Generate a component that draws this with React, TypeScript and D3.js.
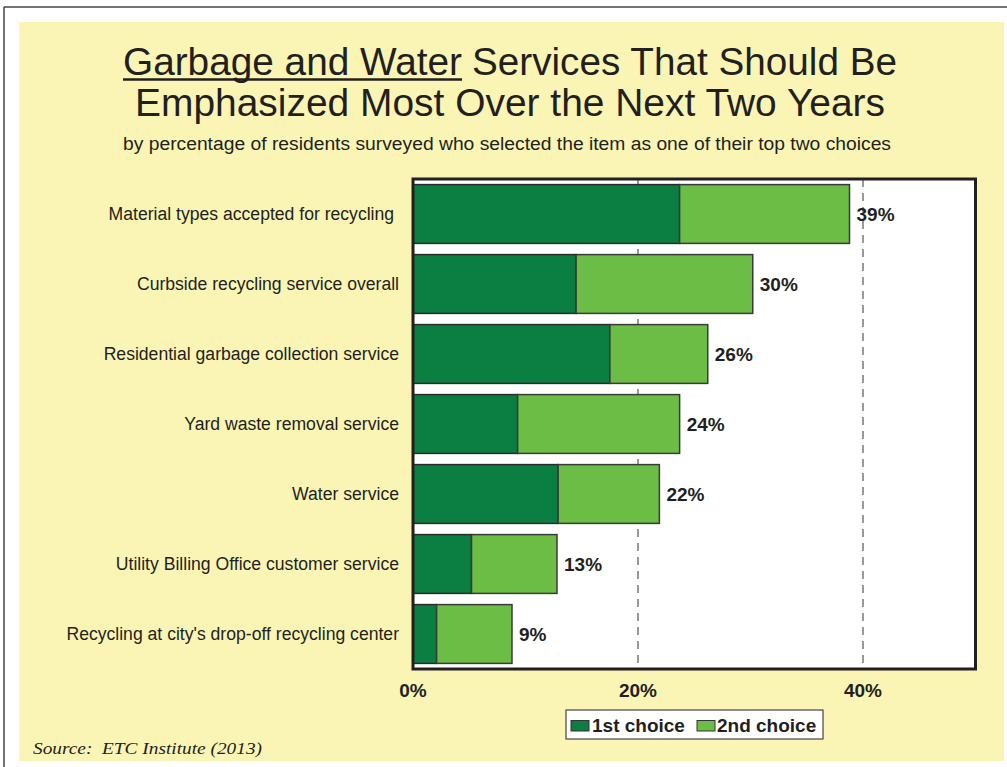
import React from "react";
import * as d3 from "d3";

const categories = [
  "Material types accepted for recycling ",
  "Curbside recycling service overall",
  "Residential garbage collection service",
  "Yard waste removal service",
  "Water service",
  "Utility Billing Office customer service",
  "Recycling at city's drop-off recycling center",
];
const firstChoice = [23.7, 14.5, 17.5, 9.3, 12.9, 5.2, 2.1];
const secondChoice = [15.1, 15.7, 8.7, 14.4, 9.0, 7.6, 6.7];
const totalLabels = ["39%", "30%", "26%", "24%", "22%", "13%", "9%"];
const xTicks = [0, 20, 40];
const seriesNames = ["1st choice", "2nd choice"];

const W = 1007;
const H = 767;
const plot = { left: 413, right: 975.5, top: 179, bottom: 669 };
const DARK = "#0B7F41";
const LIGHT = "#6CBD45";
const BG = "#FAF5B4";
const INK = "#231F20";
const SANS = "Arial, 'Liberation Sans', Helvetica, sans-serif";

export default function App() {
  const x = d3.scaleLinear().domain([0, 50]).range([plot.left, plot.right]);
  const y = d3
    .scaleBand<string>()
    .domain(categories)
    .range([plot.top, plot.bottom])
    .paddingInner(0.16)
    .paddingOuter(0.08);
  const bw = y.bandwidth();

  return (
    <svg
      width={W}
      height={H}
      style={{ position: "absolute", left: 0, top: 0, background: "#fff" }}
    >
      <line x1={4} y1={7} x2={W} y2={7} stroke="#444" strokeWidth={1.5} />
      <line x1={4} y1={7} x2={4} y2={H} stroke="#444" strokeWidth={1.5} />
      <rect x={19} y={22} width={985} height={739} fill={BG} />

      {/* Title */}
      <text
        x={123}
        y={75}
        fontFamily={SANS}
        fontSize={38}
        fill={INK}
        textLength={339}
        lengthAdjust="spacingAndGlyphs"
      >
        Garbage and Water
      </text>
      <line x1={123} x2={462} y1={79.5} y2={79.5} stroke={INK} strokeWidth={2.5} />
      <text
        x={472}
        y={75}
        fontFamily={SANS}
        fontSize={38}
        fill={INK}
        textLength={425}
        lengthAdjust="spacingAndGlyphs"
      >
        Services That Should Be
      </text>
      <text
        x={135}
        y={116}
        fontFamily={SANS}
        fontSize={38}
        fill={INK}
        textLength={750}
        lengthAdjust="spacingAndGlyphs"
      >
        Emphasized Most Over the Next Two Years
      </text>
      <text
        x={123}
        y={150}
        fontFamily={SANS}
        fontSize={18}
        fill={INK}
        textLength={768}
        lengthAdjust="spacingAndGlyphs"
      >
        by percentage of residents surveyed who selected the item as one of their top two choices
      </text>

      {/* Plot area */}
      <rect
        x={plot.left}
        y={plot.top}
        width={plot.right - plot.left}
        height={plot.bottom - plot.top}
        fill="#fff"
      />
      {xTicks
        .filter((t) => t > 0)
        .map((t) => (
          <line
            key={t}
            x1={x(t)}
            x2={x(t)}
            y1={plot.top}
            y2={plot.bottom}
            stroke="#555"
            strokeWidth={1.2}
            strokeDasharray="8,6"
          />
        ))}

      {categories.map((c, i) => {
        const y0 = y(c)!;
        const a = firstChoice[i];
        const b = secondChoice[i];
        return (
          <g key={c}>
            <rect
              x={x(0)}
              y={y0}
              width={x(a) - x(0)}
              height={bw}
              fill={DARK}
              stroke="#2a2a2a"
              strokeWidth={1.5}
            />
            <rect
              x={x(a)}
              y={y0}
              width={x(a + b) - x(a)}
              height={bw}
              fill={LIGHT}
              stroke="#3a3a3a"
              strokeWidth={1.5}
            />
            <text
              x={x(a + b) + 7}
              y={y0 + bw / 2 + 7}
              fontFamily={SANS}
              fontSize={19}
              fontWeight="bold"
              fill={INK}
            >
              {totalLabels[i]}
            </text>
            <text
              x={399}
              y={y0 + bw / 2 + 6}
              textAnchor="end"
              fontFamily={SANS}
              fontSize={17.6}
              fill={INK}
              style={{ whiteSpace: "pre" }}
            >
              {c}
            </text>
          </g>
        );
      })}

      <rect
        x={plot.left}
        y={plot.top}
        width={plot.right - plot.left}
        height={plot.bottom - plot.top}
        fill="none"
        stroke={INK}
        strokeWidth={3}
      />

      {xTicks.map((t) => (
        <text
          key={t}
          x={x(t)}
          y={697}
          textAnchor="middle"
          fontFamily={SANS}
          fontSize={19}
          fontWeight="bold"
          fill={INK}
        >
          {t}%
        </text>
      ))}

      {/* Legend */}
      <rect x={566} y={710} width={257} height={29} fill="#fff" stroke="#444" strokeWidth={1.2} />
      <rect x={571} y={720.5} width={18} height={10.5} fill={DARK} stroke="#333" strokeWidth={1} />
      <text x={592} y={732} fontFamily={SANS} fontSize={19} fontWeight="bold" fill={INK}>
        {seriesNames[0]}
      </text>
      <rect x={697} y={720.5} width={18} height={10.5} fill={LIGHT} stroke="#333" strokeWidth={1} />
      <text x={717} y={732} fontFamily={SANS} fontSize={19} fontWeight="bold" fill={INK}>
        {seriesNames[1]}
      </text>

      <text
        x={33}
        y={754}
        fontFamily="'Liberation Serif', 'Times New Roman', serif"
        fontStyle="italic"
        fontSize={17}
        fill={INK}
        textLength={229}
        lengthAdjust="spacingAndGlyphs"
        style={{ whiteSpace: "pre" }}
      >
        Source:  ETC Institute (2013)
      </text>
    </svg>
  );
}
